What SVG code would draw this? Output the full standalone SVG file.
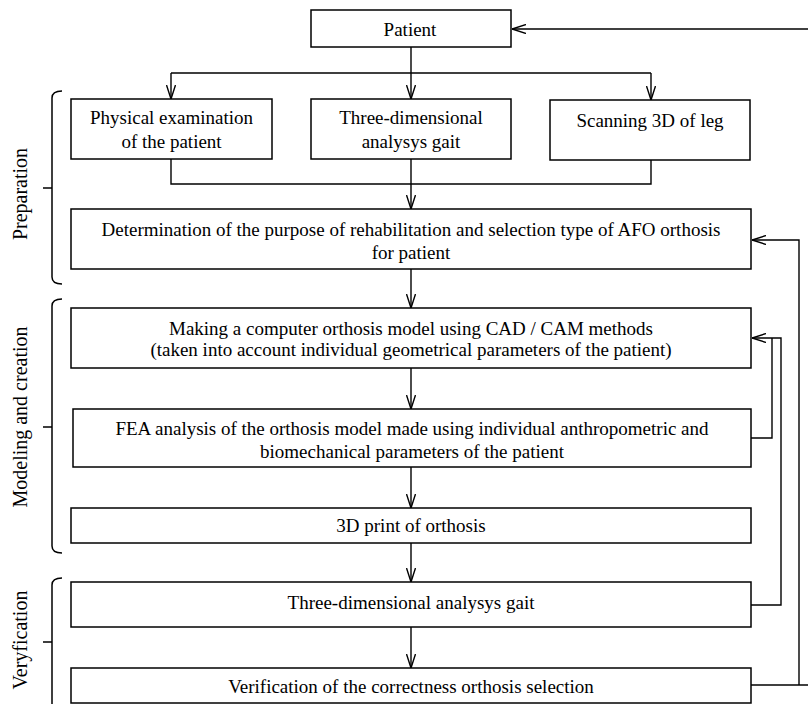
<svg xmlns="http://www.w3.org/2000/svg" width="808" height="704" viewBox="0 0 808 704">
<defs>
<style>
.box{fill:#fff;stroke:#000;stroke-width:1.5}
.t{text-anchor:middle}
.c{fill:none;stroke:#000;stroke-width:1.4}
.br{fill:none;stroke:#000;stroke-width:1.5}
</style>
<marker id="ah" viewBox="0 0 14 10" refX="14" refY="5" markerWidth="14" markerHeight="10" markerUnits="userSpaceOnUse" orient="auto">
<path d="M0,0.5 L14,5 L0,9.5" fill="none" stroke="#000" stroke-width="1.4"/>
</marker>
</defs>
<rect width="808" height="704" fill="#fff"/>

<g id="connectors">
<path class="c" d="M808,29 H512" marker-end="url(#ah)"/>
<path class="c" d="M411,47 V73 M171,73 H651"/>
<path class="c" d="M171,73 V99" marker-end="url(#ah)"/>
<path class="c" d="M411,73 V99" marker-end="url(#ah)"/>
<path class="c" d="M651,73 V100" marker-end="url(#ah)"/>
<path class="c" d="M171,159 V184 H651 V160"/>
<path class="c" d="M411,159 V209" marker-end="url(#ah)"/>
<path class="c" d="M411,269 V308" marker-end="url(#ah)"/>
<path class="c" d="M411,368 V409" marker-end="url(#ah)"/>
<path class="c" d="M411,467 V508" marker-end="url(#ah)"/>
<path class="c" d="M411,543 V582" marker-end="url(#ah)"/>
<path class="c" d="M411,627 V668" marker-end="url(#ah)"/>
<path class="c" d="M751,438 H772 V338"/>
<path class="c" d="M751,605 H781 V338 H752" marker-end="url(#ah)"/>
<path class="c" d="M751,685 H808"/>
<path class="c" d="M799,685 V240 H752" marker-end="url(#ah)"/>
</g>

<g font-family="'Liberation Serif', 'Times New Roman', serif" font-size="19" fill="#000">
<g id="patient"><rect class="box" x="311" y="10" width="200" height="37"/><text class="t" x="410" y="36">Patient</text></g>

<g id="physical"><rect class="box" x="71" y="99" width="201" height="60"/>
<text class="t" x="171.5" y="124">Physical examination</text>
<text class="t" x="171.5" y="148">of the patient</text></g>

<g id="gait1"><rect class="box" x="311" y="99" width="200" height="60"/>
<text class="t" x="411" y="124">Three-dimensional</text>
<text class="t" x="411" y="148">analysys gait</text></g>

<g id="scan"><rect class="box" x="550" y="100" width="200" height="60"/>
<text class="t" x="650" y="127">Scanning 3D of leg</text></g>

<g id="determination"><rect class="box" x="71" y="209" width="680" height="60"/>
<text class="t" x="411" y="236">Determination of the purpose of rehabilitation and selection type of AFO orthosis</text>
<text class="t" x="411" y="259">for patient</text></g>

<g id="making"><rect class="box" x="71" y="308" width="680" height="60"/>
<text class="t" x="411" y="335">Making a computer orthosis model using CAD / CAM methods</text>
<text class="t" x="411" y="356">(taken into account individual geometrical parameters of the patient)</text></g>

<g id="fea"><rect class="box" x="73" y="409" width="678" height="58"/>
<text class="t" x="412" y="435">FEA analysis of the orthosis model made using individual anthropometric and</text>
<text class="t" x="412" y="458">biomechanical parameters of the patient</text></g>

<g id="print"><rect class="box" x="71" y="508" width="680" height="35"/>
<text class="t" x="411" y="532">3D print of orthosis</text></g>

<g id="gait2"><rect class="box" x="71" y="582" width="680" height="45"/>
<text class="t" x="411" y="609">Three-dimensional analysys gait</text></g>

<g id="verification"><rect class="box" x="71" y="668" width="680" height="35"/>
<text class="t" x="411" y="693">Verification of the correctness orthosis selection</text></g>
</g>

<g id="brackets" font-family="'Liberation Serif', 'Times New Roman', serif" font-size="20" fill="#000">
<path class="br" d="M62,91 Q52,91 52,98 V277 Q52,284 62,284 M43,188 H52"/>
<path class="br" d="M62,299 Q52,299 52,306 V546 Q52,553 62,553 M43,427 H52"/>
<path class="br" d="M62,578 Q52,578 52,585 V710 M43,642 H52"/>
<text class="t" transform="translate(27,194) rotate(-90)">Preparation</text>
<text class="t" transform="translate(27,417) rotate(-90)">Modeling and creation</text>
<text class="t" transform="translate(27,640) rotate(-90)">Veryfication</text>
</g>
</svg>
